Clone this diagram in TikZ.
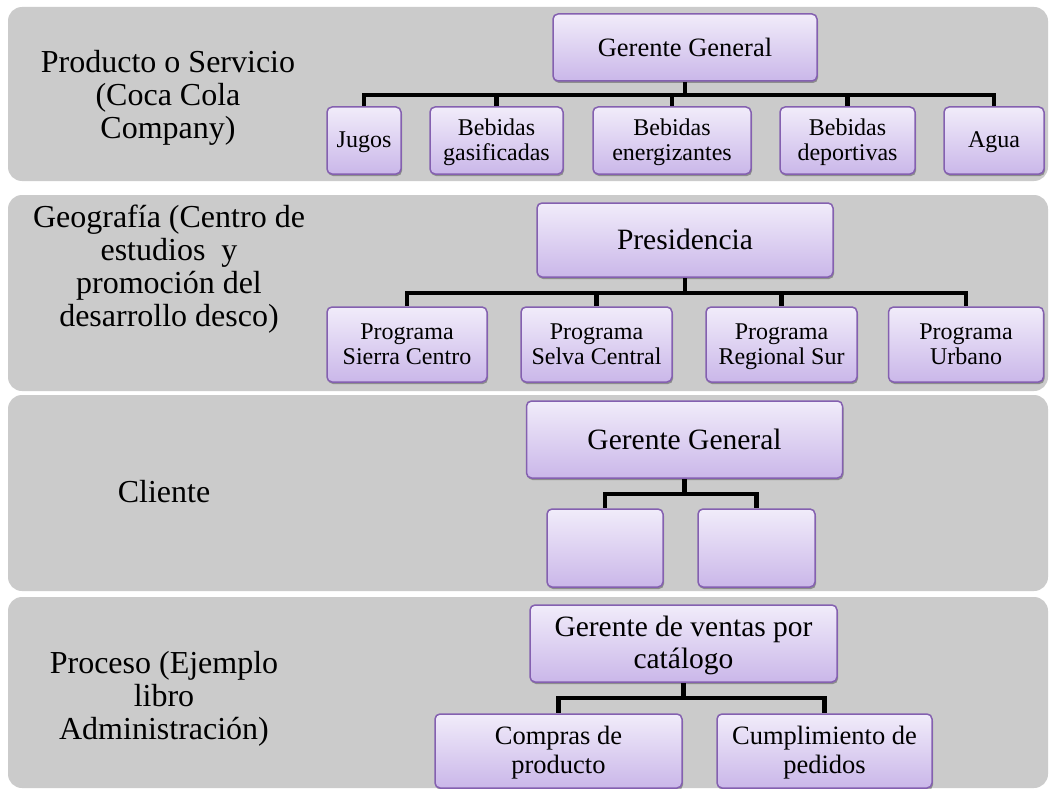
\documentclass[tikz,border=0pt]{standalone}
\usepackage{fontspec}
\setmainfont{Liberation Serif}
\usetikzlibrary{shadows,backgrounds}
\definecolor{panelgray}{RGB}{203,203,203}
\definecolor{boxline}{RGB}{132,96,176}
\definecolor{boxtop}{RGB}{241,236,250}
\definecolor{boxbot}{RGB}{202,183,233}
\newcommand{\lnstr}[1]{\rule[-0.16em]{0pt}{0.98em}#1\rule[-0.16em]{0pt}{0.98em}}
\tikzset{
  panel/.style={fill=panelgray, rounded corners=14pt},
  lbl/.style={align=center, font=\fontsize{32}{33}\selectfont},
  box/.style={draw=boxline, line width=1.5pt, rounded corners=5pt,
    top color=boxtop, bottom color=boxbot, align=center, inner sep=0pt,
    drop shadow={shadow xshift=1pt, shadow yshift=-2pt, opacity=0.3, fill=black}},
  conn/.style={line width=4.5pt, line join=miter, draw=black},
  fa/.style={font=\fontsize{26.5}{28}\selectfont},
  fb/.style={font=\fontsize{24}{25}\selectfont},
  fc/.style={font=\fontsize{29.5}{29.5}\selectfont},
  fd/.style={font=\fontsize{24}{25}\selectfont},
  fe/.style={font=\fontsize{26.5}{29}\selectfont},
}
\begin{document}
\begin{tikzpicture}[x=1pt,y=-1pt]
\useasboundingbox (0,0) rectangle (1049,789);
\begin{pgfonlayer}{background}
\fill[white] (0,0) rectangle (1049,789);
\fill[panel] (8,7) rectangle (1048,181);
\fill[panel] (8,195) rectangle (1048,391);
\fill[panel] (8,395) rectangle (1048,591);
\fill[panel] (8,597) rectangle (1048,788);
\end{pgfonlayer}
% left labels
\node[lbl] (l1) at (168,97.5) {Producto o Servicio\\(Coca Cola\\Company)};
\node[lbl] (l2) at (169,269) {Geografía (Centro de\\estudios~ y\\promoción del\\desarrollo desco)};
\node[lbl] (l3) at (164,492) {Cliente};
\node[lbl] (l4) at (164,699) {Proceso (Ejemplo\\libro\\Administración)};
% bar coordinates
\coordinate (bar1) at (685,95);
\coordinate (bar2) at (685,293);
\coordinate (bar3) at (684.5,494);
\coordinate (bar4) at (683.5,698);
% panel 1 nodes
\node[box, fa, minimum width=264, minimum height=67] (g1) at (685,47.5) {\lnstr{Gerente General}};
\node[box, fb, minimum width=74, minimum height=67] (j1) at (364,140.5) {\lnstr{Jugos}};
\node[box, fb, minimum width=133, minimum height=67] (j2) at (496.5,140.5) {\lnstr{Bebidas}\\\lnstr{gasificadas}};
\node[box, fb, minimum width=158, minimum height=67] (j3) at (672,140.5) {\lnstr{Bebidas}\\\lnstr{energizantes}};
\node[box, fb, minimum width=135, minimum height=67] (j4) at (847.5,140.5) {\lnstr{Bebidas}\\\lnstr{deportivas}};
\node[box, fb, minimum width=100, minimum height=67] (j5) at (994,140.5) {\lnstr{Agua}};
% panel 2 nodes
\node[box, fc, minimum width=296, minimum height=74] (p2) at (685,240) {\lnstr{Presidencia}};
\node[box, fd, minimum width=160, minimum height=75] (s1) at (407,344.5) {\lnstr{Programa}\\\lnstr{Sierra Centro}};
\node[box, fd, minimum width=151, minimum height=75] (s2) at (596.5,344.5) {\lnstr{Programa}\\\lnstr{Selva Central}};
\node[box, fd, minimum width=151, minimum height=75] (s3) at (781.5,344.5) {\lnstr{Programa}\\\lnstr{Regional Sur}};
\node[box, fd, minimum width=155, minimum height=75] (s4) at (966,344.5) {\lnstr{Programa}\\\lnstr{Urbano}};
% panel 3 nodes
\node[box, fc, minimum width=316, minimum height=77] (g3) at (684.5,439.5) {\lnstr{Gerente General}};
\node[box, minimum width=116, minimum height=78] (c1) at (605,548) {};
\node[box, minimum width=117, minimum height=78] (c2) at (756.5,548) {};
% panel 4 nodes
\node[box, fc, minimum width=307, minimum height=77] (g4) at (683.5,643.5) {\lnstr{Gerente de ventas por}\\\lnstr{catálogo}};
\node[box, fe, minimum width=247, minimum height=74] (d1) at (558.5,751) {\lnstr{Compras de}\\\lnstr{producto}};
\node[box, fe, minimum width=215, minimum height=74] (d2) at (824.5,751) {\lnstr{Cumplimiento de}\\\lnstr{pedidos}};
% connectors (behind boxes, above panels)
\begin{pgfonlayer}{background}
\draw[conn] (g1.south) -- (bar1);
\foreach \n in {j1,j2,j3,j4,j5} {\draw[conn] (bar1) -| (\n.north);}
\draw[conn] (p2.south) -- (bar2);
\foreach \n in {s1,s2,s3,s4} {\draw[conn] (bar2) -| (\n.north);}
\draw[conn] (g3.south) -- (bar3);
\foreach \n in {c1,c2} {\draw[conn] (bar3) -| (\n.north);}
\draw[conn] (g4.south) -- (bar4);
\foreach \n in {d1,d2} {\draw[conn] (bar4) -| (\n.north);}
\end{pgfonlayer}
\end{tikzpicture}
\end{document}
